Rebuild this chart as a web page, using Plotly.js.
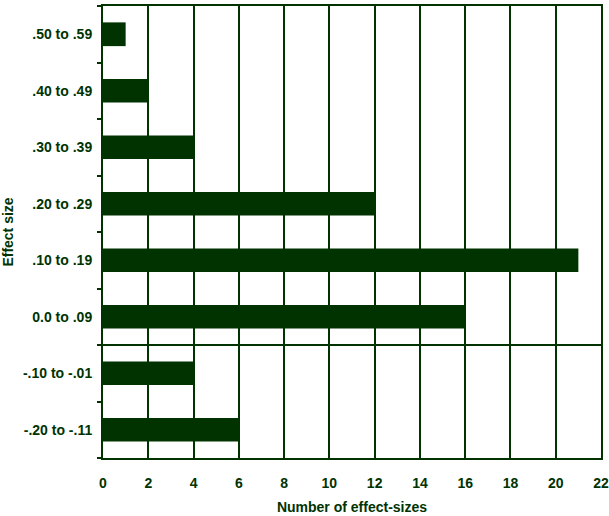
<!DOCTYPE html>
<html>
<head>
<meta charset="utf-8">
<script src="https://cdn.plot.ly/plotly-3.0.1.min.js"></script>
<style>
  html, body { margin: 0; padding: 0; background: #fff; }
  #chart { width: 609px; height: 516px; }
</style>
</head>
<body>
<div id="chart"></div>
<script>
// effect-size bins, bottom to top
const bins = ['-.20 to -.11', '-.10 to -.01', '0.0 to .09', '.10 to .19',
              '.20 to .29', '.30 to .39', '.40 to .49', '.50 to .59'];
const counts = [6, 4, 16, 21, 12, 4, 2, 1];
const xTicks = [0, 2, 4, 6, 8, 10, 12, 14, 16, 18, 20, 22];

const green = '#003300';
const font = { family: 'Liberation Sans, Arial, sans-serif', size: 14, color: green, weight: 'bold' };

const trace = {
    type: 'bar',
    orientation: 'h',
    x: counts,
    y: bins,
    width: 0.42,
    marker: { color: green, line: { width: 0 } },
    hoverinfo: 'x+y'
};

const layout = {
    width: 609,
    height: 516,
    margin: { l: 103, r: 8, t: 6, b: 58 },
    paper_bgcolor: '#fff',
    plot_bgcolor: '#fff',
    font: font,
    showlegend: false,
    bargap: 0.58,
    xaxis: {
        range: [0, 22],
        tickvals: xTicks,
        showgrid: true,
        gridcolor: green,
        gridwidth: 2,
        zeroline: false,
        showline: true,
        linecolor: green,
        linewidth: 2,
        mirror: true,
        ticks: '',
        ticklabelstandoff: 11,
        tickfont: font,
        fixedrange: true,
        title: { text: 'Number of effect-sizes', font: font, standoff: 12 }
    },
    yaxis: {
        type: 'category',
        categoryorder: 'array',
        categoryarray: bins,
        tickson: 'boundaries',
        ticks: 'outside',
        ticklen: 4,
        tickwidth: 2,
        tickcolor: green,
        showgrid: false,
        zeroline: false,
        showline: true,
        linecolor: green,
        linewidth: 2,
        mirror: true,
        ticklabelstandoff: 6,
        tickfont: font,
        fixedrange: true,
        title: { text: 'Effect size', font: font, standoff: 6 }
    },
    shapes: [{
        // divider between negative and non-negative bins
        type: 'line', xref: 'paper', yref: 'y',
        x0: 0, x1: 1, y0: 1.5, y1: 1.5,
        line: { color: green, width: 2 }
    }]
};

Plotly.newPlot('chart', [trace], layout, { displayModeBar: false, staticPlot: true });
</script>
</body>
</html>
